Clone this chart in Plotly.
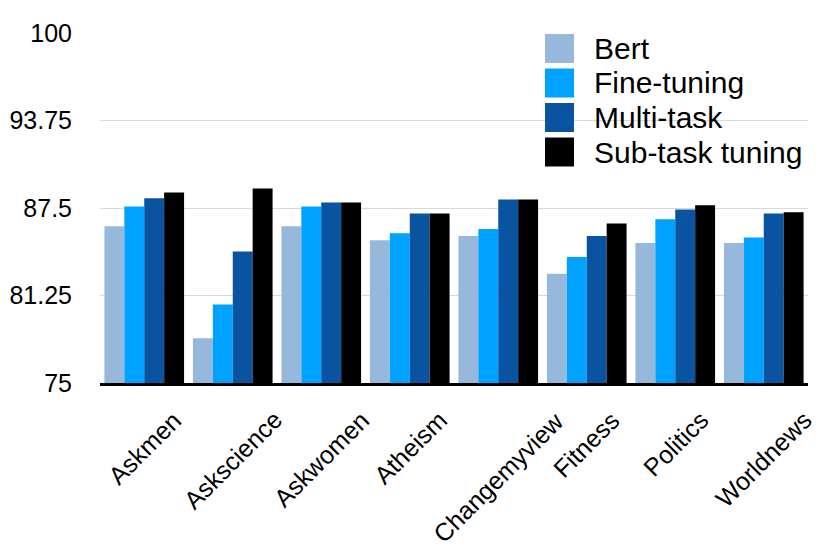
import plotly.graph_objects as go

# Subreddit categories and accuracy per method
categories = ['Askmen', 'Askscience', 'Askwomen', 'Atheism',
              'Changemyview', 'Fitness', 'Politics', 'Worldnews']
bert = [86.2, 78.2, 86.2, 85.2, 85.5, 82.8, 85.0, 85.0]
fine_tuning = [87.6, 80.6, 87.6, 85.7, 86.0, 84.0, 86.7, 85.4]
multi_task = [88.2, 84.4, 87.9, 87.1, 88.1, 85.5, 87.4, 87.1]
sub_task = [88.6, 88.9, 87.9, 87.1, 88.1, 86.4, 87.7, 87.2]

series_names = ['Bert', 'Fine-tuning', 'Multi-task', 'Sub-task tuning']
series_values = [bert, fine_tuning, multi_task, sub_task]
colors = ['#96b8db', '#00a2ff', '#0a53a0', '#000000']

y_ticks = [75, 81.25, 87.5, 93.75, 100]
y_ticktext = ['75', '81.25', '87.5', '93.75', '100']

FONT = 'Liberation Sans, Arial, Helvetica, sans-serif'

fig = go.Figure()
for name, vals, col in zip(series_names, series_values, colors):
    fig.add_trace(go.Bar(x=categories, y=vals, name=name, marker_color=col,
                         marker_line_width=0, showlegend=False))

# rotated category labels, centred under each group
annotations = []
for cat in categories:
    annotations.append(dict(x=cat, y=0, xref='x', yref='paper', text=cat,
                            showarrow=False, textangle=-45, xanchor='center',
                            yanchor='top', yshift=-20,
                            font=dict(family=FONT, size=25, color='black')))

# custom legend with large squares (plot area spans 708 x 350 px)
shapes = []
for i, (name, col) in enumerate(zip(series_names, colors)):
    top = 1 + i * 34.5
    y0 = 1 - top / 350
    y1 = 1 - (top + 29) / 350
    shapes.append(dict(type='rect', xref='paper', yref='paper',
                       x0=445 / 708, x1=474 / 708,
                       y0=y1, y1=y0, fillcolor=col, line_width=0))
    annotations.append(dict(x=492 / 708, y=(y0 + y1) / 2, xref='paper',
                            yref='paper', text=name, showarrow=False,
                            xanchor='left', yanchor='middle',
                            font=dict(family=FONT, size=30, color='black')))

# page body has an 8px margin, keep the figure inside the window
fig.update_layout(
    width=815, height=544,
    margin=dict(l=92, r=15, t=25, b=169),
    paper_bgcolor='white', plot_bgcolor='white',
    barmode='group', bargap=0.1, bargroupgap=0,
    font=dict(family=FONT, size=28, color='black'),
    annotations=annotations, shapes=shapes,
    showlegend=False,
)
fig.update_xaxes(range=[-0.5, len(categories) - 0.5],
                 showticklabels=False, showgrid=False, ticks='',
                 showline=True, linecolor='black', linewidth=3,
                 automargin=False)
fig.update_yaxes(range=[75, 100], tickvals=y_ticks, ticktext=y_ticktext,
                 showgrid=True, gridcolor='#d9d9d9', gridwidth=1,
                 zeroline=False, showline=False, ticks='',
                 ticklabelstandoff=27, tickfont=dict(size=25),
                 automargin=False)

fig.write_html("out.html")
